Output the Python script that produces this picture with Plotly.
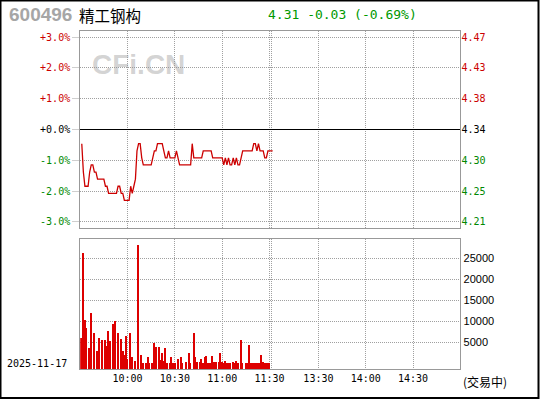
import plotly.graph_objects as go

W, H = 540, 400
PREV_CLOSE = 4.34
STOCK_CODE = "600496"
STOCK_NAME = "精工钢构"
TRADE_DATE = "2025-11-17"
STATUS = "(交易中)"
WATERMARK = "CFi.CN"

# per-minute prices (minute index from 9:30)
prices = [
    4.32, 4.28, 4.26, 4.26, 4.26, 4.28, 4.29, 4.29, 4.28, 4.28,
    4.27, 4.27, 4.27, 4.27, 4.27, 4.26, 4.26, 4.25, 4.25, 4.25,
    4.25, 4.25, 4.25, 4.26, 4.26, 4.25, 4.25, 4.24, 4.24, 4.24,
    4.24, 4.26, 4.25, 4.26, 4.27, 4.31, 4.32, 4.32, 4.30, 4.29,
    4.29, 4.29, 4.29, 4.29, 4.29, 4.30, 4.31, 4.31, 4.32, 4.32,
    4.32, 4.32, 4.31, 4.30, 4.30, 4.31, 4.30, 4.30, 4.30, 4.30,
    4.31, 4.30, 4.29, 4.29, 4.29, 4.29, 4.29, 4.29, 4.29, 4.29,
    4.32, 4.30, 4.30, 4.30, 4.30, 4.30, 4.30, 4.31, 4.31, 4.31,
    4.31, 4.31, 4.31, 4.30, 4.30, 4.30, 4.30, 4.30, 4.30, 4.30,
    4.29, 4.30, 4.29, 4.30, 4.29, 4.29, 4.30, 4.29, 4.30, 4.29,
    4.29, 4.30, 4.31, 4.31, 4.31, 4.31, 4.31, 4.31, 4.31, 4.32,
    4.32, 4.31, 4.32, 4.31, 4.31, 4.31, 4.30, 4.30, 4.31, 4.31,
    4.31, 4.31,
]
price_minutes = list(range(1, len(prices) + 1))

vol_minutes = [
    1, 2, 3, 4, 6, 7, 9, 11, 12, 14, 16, 17, 18, 19, 21, 22, 24, 26, 27, 28,
    29, 30, 32, 33, 35, 37, 39, 40, 42, 43, 44, 46, 47, 48, 50, 51, 52, 53, 54, 55,
    57, 58, 59, 60, 62, 64, 65, 67, 69, 70, 72, 73, 74, 76, 77, 78, 79, 80, 81, 82,
    83, 84, 85, 86, 88, 89, 90, 91, 92, 93, 94, 95, 97, 98, 99, 100, 102, 103, 105, 106,
    107, 108, 109, 110, 111, 112, 113, 114, 115, 116, 117, 118, 119, 120,
]
volumes = [
    6050, 26200, 10500, 8600, 3900, 12150, 7420, 3150, 6250, 5760,
    5760, 4330, 7900, 5530, 9550, 10250, 7420, 6020, 3150, 2200,
    6700, 1250, 7420, 1720, 770, 28300, 2200, 300, 130, 1720,
    300, 300, 4880, 3930, 3930, 940, 2500, 770, 3700, 300,
    130, 1720, 130, 300, 1250, 1720, 300, 540, 2500, 300,
    7260, 1720, 540, 540, 1170, 300, 1560, 1800, 130, 130,
    300, 1890, 540, 540, 540, 2630, 540, 300, 620, 300,
    300, 300, 540, 300, 620, 300, 5760, 300, 300, 130,
    4570, 300, 300, 130, 300, 130, 300, 300, 2200, 540,
    130, 300, 300, 300,
]

pct_ticks = [3, 2, 1, 0, -1, -2, -3]
pct_labels = ["+3.0%", "+2.0%", "+1.0%", "+0.0%", "-1.0%", "-2.0%", "-3.0%"]
price_labels = ["4.47", "4.43", "4.38", "4.34", "4.30", "4.25", "4.21"]
time_ticks = [30, 60, 90, 120, 121, 151, 181, 211]
time_labels = ["10:00", "10:30", "11:00", "11:30", "", "13:30", "14:00", "14:30"]
vol_ticks = [5000, 10000, 15000, 20000, 25000]
vol_labels = ["5000", "10000", "15000", "20000", "25000"]

RED = "#cc0000"
GREEN = "#008800"
GRID = "#a0a0a0"
BORDER = "#999999"
MONO = "DejaVu Sans Mono"
VOL_FLOOR = -1370
VOL_TOP = 29630
PCT_SPAN = 3.2


def px(x):
    return x / W


def py(y):
    return 1 - y / H


def col(v):
    return RED if v > 0 else ("#000000" if v == 0 else GREEN)


xdom = [px(80.2), px(460.4)]
price_dom = [py(228), py(31)]
vol_dom = [py(369.3), py(238.5)]

pct_vals = [(p / PREV_CLOSE - 1) * 100 for p in prices]

fig = go.Figure()
fig.add_trace(go.Scatter(x=price_minutes, y=pct_vals, xaxis="x", yaxis="y",
                         mode="lines", line=dict(color="rgba(0,0,0,0)", width=1),
                         hoverinfo="skip", showlegend=False))
fig.add_trace(go.Scatter(x=price_minutes, y=prices, xaxis="x", yaxis="y2",
                         mode="lines", line=dict(color=RED, width=1.3),
                         showlegend=False))
fig.add_trace(go.Bar(x=vol_minutes, y=[v - VOL_FLOOR for v in volumes], base=VOL_FLOOR,
                     xaxis="x2", yaxis="y3", width=0.75,
                     marker=dict(color="#dd0000", line=dict(width=0)),
                     showlegend=False))

grid_common = dict(showgrid=True, gridcolor=GRID, griddash="1px,1px", gridwidth=1,
                   showline=True, mirror=True, linecolor=BORDER, linewidth=1,
                   zeroline=False)

fig.update_layout(
    width=W, height=H, autosize=False,
    margin=dict(l=0, r=0, t=0, b=0),
    paper_bgcolor="white", plot_bgcolor="white",
    bargap=0,
    xaxis=dict(domain=xdom, range=[0, 241], anchor="y", tickvals=time_ticks,
               showticklabels=False, ticks="", **grid_common),
    yaxis=dict(domain=price_dom, range=[-PCT_SPAN, PCT_SPAN], anchor="x",
               tickvals=pct_ticks,
               ticktext=[f'<span style="color:{col(v)}">{t}</span>' for v, t in zip(pct_ticks, pct_labels)],
               tickfont=dict(family=MONO, size=10),
               ticks="outside", ticklen=7, tickcolor="#cfcfcf", tickwidth=1,
               showgrid=True, gridcolor=GRID, griddash="1px,1px",
               showline=True, mirror=True, linecolor=BORDER, linewidth=1,
               zeroline=True, zerolinecolor="#000000", zerolinewidth=1),
    yaxis2=dict(overlaying="y", side="right", anchor="x",
                range=[PREV_CLOSE * (1 - PCT_SPAN / 100), PREV_CLOSE * (1 + PCT_SPAN / 100)],
                tickvals=[PREV_CLOSE * (1 + v / 100) for v in pct_ticks],
                ticktext=[f'<span style="color:{col(v)}">{t}</span>' for v, t in zip(pct_ticks, price_labels)],
                tickfont=dict(family=MONO, size=10),
                ticks="", showgrid=False, zeroline=False, ticklabelstandoff=0),
    xaxis2=dict(domain=xdom, range=[0, 241], anchor="y3", tickvals=time_ticks,
                ticktext=time_labels, tickfont=dict(family=MONO, size=10, color="#000"),
                ticks="", **grid_common),
    yaxis3=dict(domain=vol_dom, anchor="x2", side="right",
                range=[VOL_FLOOR, VOL_TOP], tickvals=vol_ticks, ticktext=vol_labels,
                tickfont=dict(family="Liberation Sans", size=11, color="#000"),
                ticks="", ticklabelstandoff=0, **grid_common),
)

last = prices[-1]
chg = last - PREV_CLOSE
quote = f"{last:.2f} {chg:+.2f} ({chg / PREV_CLOSE * 100:+.2f}%)"

ann = [
    dict(text=STOCK_CODE, x=px(7), y=py(15), xanchor="left", yanchor="middle",
         font=dict(family="Liberation Sans", size=19, color="#a6a6a6", weight="bold")),
    dict(text=STOCK_NAME, x=px(77), y=py(14.5), xanchor="left", yanchor="middle",
         font=dict(family="Noto Sans CJK SC", size=15.5, color="#000")),
    dict(text=quote, x=px(266), y=py(14.5), xanchor="left", yanchor="middle",
         font=dict(family=MONO, size=13, color="#009900")),
    dict(text=WATERMARK, x=px(138), y=py(65), xanchor="center", yanchor="middle",
         font=dict(family="Liberation Sans", size=28, color="rgba(150,150,150,0.42)", weight="bold")),
    dict(text=TRADE_DATE, x=px(5), y=py(363.3), xanchor="left", yanchor="middle",
         font=dict(family=MONO, size=10, color="#000")),
    dict(text=STATUS, x=px(461), y=py(381), xanchor="left", yanchor="middle",
         font=dict(family="Noto Sans CJK SC", size=12, color="#000")),
]
for a in ann:
    a.update(xref="paper", yref="paper", showarrow=False)
fig.update_layout(annotations=ann)

fig.add_shape(type="rect", xref="paper", yref="paper",
              x0=px(0.5), x1=px(538.5), y0=py(398), y1=py(0.5),
              line=dict(color="#000", width=2), fillcolor="rgba(0,0,0,0)")

fig.write_html("out.html", config={"displayModeBar": False},
               post_script="document.body.style.margin='0';document.body.style.padding='0';")
